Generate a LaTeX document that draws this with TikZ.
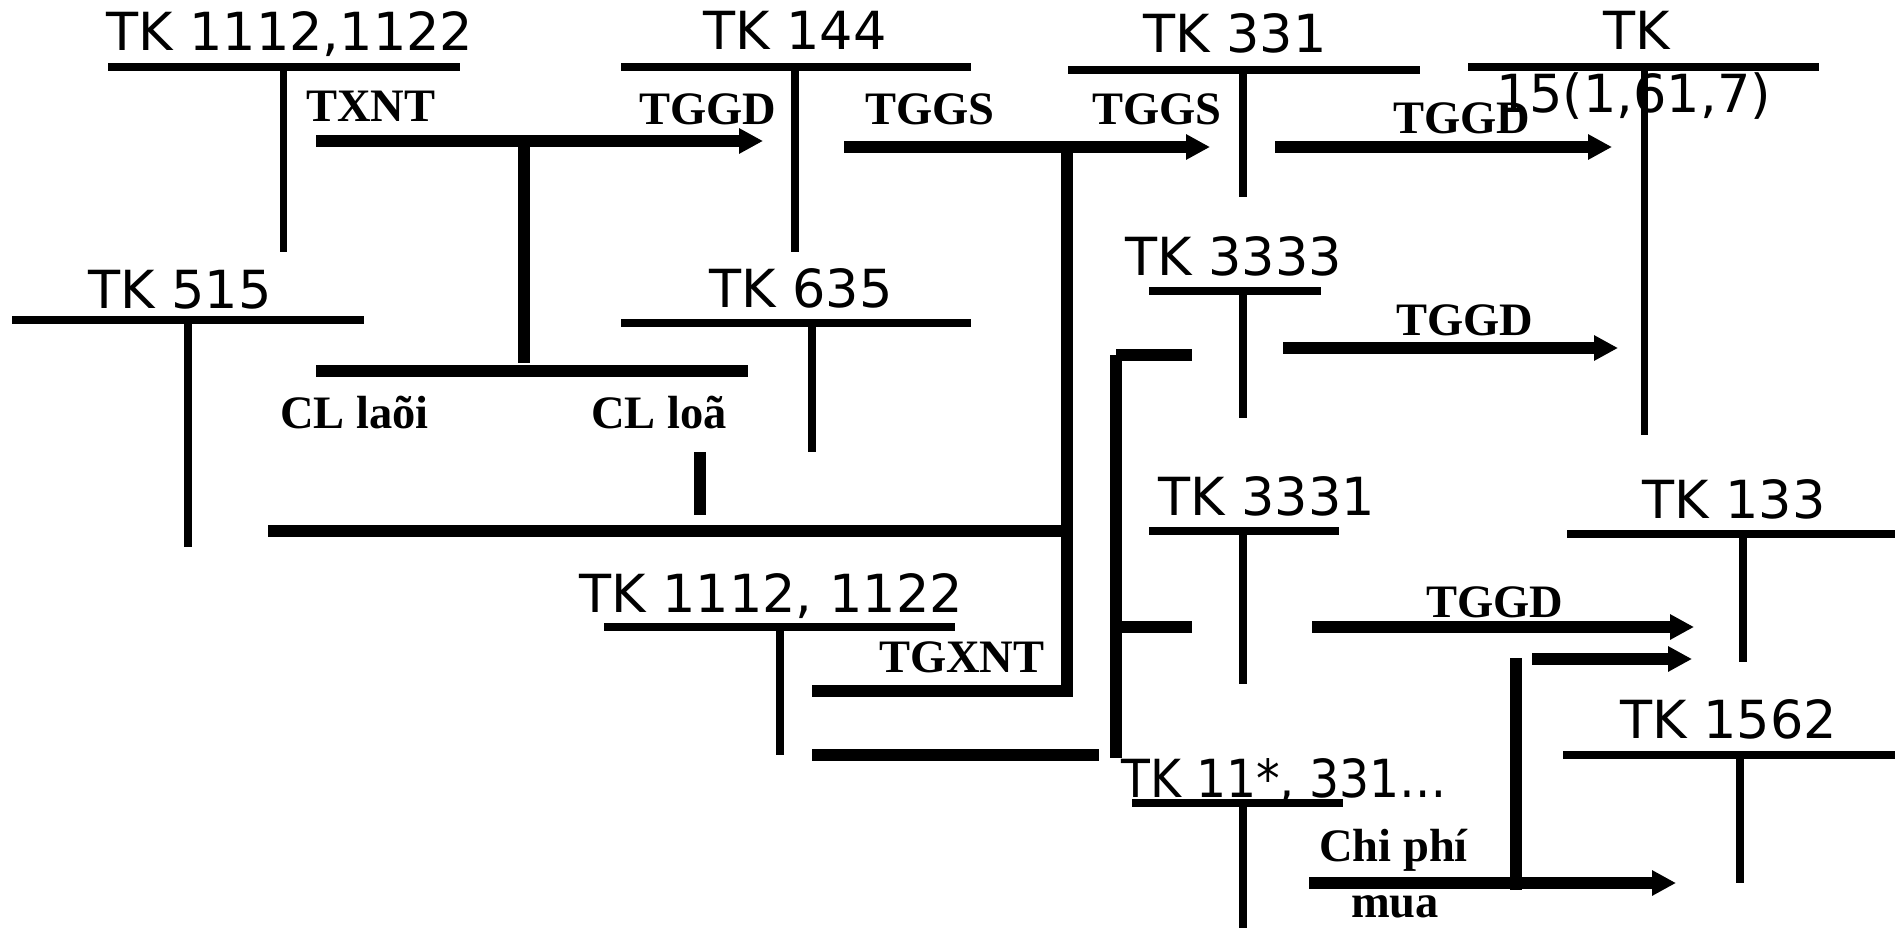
\documentclass[tikz,border=0pt]{standalone}
\usepackage{graphicx}
\usepackage{fontspec}
\setmainfont{Liberation Serif}
\newfontfamily\acfont{DejaVu Sans}
\usetikzlibrary{arrows.meta}
\begin{document}
\begin{tikzpicture}[x=1pt,y=-1pt,
  acct/.style={font=\acfont\fontsize{52.5}{60}\selectfont, anchor=base west, inner sep=0pt},
  lbl/.style={font=\bfseries\fontsize{46.5}{54}\selectfont, anchor=base west, inner sep=0pt},
  thinln/.style={line width=7.5pt},
  thickln/.style={line width=12pt},
  flow/.style={thickln, -{Triangle[length=24pt,width=24pt]}}]
\useasboundingbox[fill=white] (0,0) rectangle (1895,928);

% account titles
\node[acct] (t1) at (106,51) {TK 1112,1122};
\node[acct] (t2) at (703,50) {TK 144};
\node[acct] (t3) at (1143,53) {TK 331};
\node[acct] (t4) at (1603,50) {TK};
\node[acct] (t4b) at (1496,113) {15(1,61,7)};
\node[acct] (t5) at (88,308) {TK 515};
\node[acct] (t6) at (709,307) {TK 635};
\node[acct] (t7) at (1125,275) {TK 3333};
\node[acct] (t8) at (1158,515) {TK 3331};
\node[acct] (t9) at (1642,518) {TK 133};
\node[acct] (t10) at (579,612) {TK 1112, 1122};
\node[acct] (t11) at (1620,738) {TK 1562};
\node[acct] (t12) at (1121,797) {\scalebox{0.9}[1]{TK 11*, 331…}};

% flow labels
\node[lbl] (l1) at (306,122) {TXNT};
\node[lbl] (l2) at (639,125) {TGGD};
\node[lbl] (l3) at (865,125) {TGGS};
\node[lbl] (l4) at (1092,125) {TGGS};
\node[lbl] (l5) at (1393,134) {TGGD};
\node[lbl] (l6) at (1396,335) {TGGD};
\node[lbl] (l7) at (1426,617) {TGGD};
\node[lbl] (l8) at (879,672) {TGXNT};
\node[lbl] (l9) at (280,428) {CL laõi};
\node[lbl] (l10) at (591,428) {CL loã};
\node[lbl] (l11) at (1319,861) {Chi phí};
\node[lbl] (l12) at (1351,917) {mua};

% T accounts
\draw[thinln] (108,67) -- (460,67) (283.5,67) -- (283.5,252);
\draw[thinln] (621,67) -- (971,67) (795,67) -- (795,252);
\draw[thinln] (1068,70) -- (1420,70) (1243,70) -- (1243,197);
\draw[thinln] (1468,67) -- (1819,67) (1644.5,67) -- (1644.5,435);
\draw[thinln] (12,320) -- (364,320) (188,320) -- (188,547);
\draw[thinln] (621,323) -- (971,323) (812,323) -- (812,452);
\draw[thinln] (1149,291) -- (1321,291) (1243,291) -- (1243,418);
\draw[thinln] (1149,531) -- (1339,531) (1243,531) -- (1243,684);
\draw[thinln] (1567,534) -- (1895,534) (1743,534) -- (1743,662);
\draw[thinln] (604,627) -- (955,627) (780,627) -- (780,755);
\draw[thinln] (1563,755) -- (1895,755) (1740,755) -- (1740,883);
\draw[thinln] (1132,803) -- (1343,803) (1243,803) -- (1243,928);

% named points of the flows
\coordinate (a1s) at (316,141);  \coordinate (a1e) at (763,141);
\coordinate (a2s) at (844,147);  \coordinate (a2e) at (1210,147);
\coordinate (a3s) at (1275,147); \coordinate (a3e) at (1612,147);
\coordinate (a4s) at (1283,348); \coordinate (a4e) at (1618,348);
\coordinate (a5s) at (1312,627); \coordinate (a5e) at (1694,627);
\coordinate (a6s) at (1532,659); \coordinate (a6e) at (1692,659);
\coordinate (a7s) at (1309,883); \coordinate (a7e) at (1676,883);

% thick flows
\draw[flow] (a1s) -- (a1e);
\draw[thickln] (524,141) -- (524,363);
\draw[thickln] (316,371) -- (748,371);
\draw[thickln] (700,452) -- (700,515);
\draw[thickln] (268,531) -- (1067,531);
\draw[flow] (a2s) -- (a2e);
\draw[thickln] (1067,147) -- (1067,691);
\draw[thickln] (812,691) -- (1073,691);
\draw[thickln] (812,755) -- (1099,755);
\draw[thickln] (1116,355) -- (1192,355);
\draw[thickln] (1116,355) -- (1116,758);
\draw[thickln] (1116,627) -- (1192,627);
\draw[flow] (a3s) -- (a3e);
\draw[flow] (a4s) -- (a4e);
\draw[flow] (a5s) -- (a5e);
\draw[flow] (a6s) -- (a6e);
\draw[thickln] (1516,658) -- (1516,890);
\draw[flow] (a7s) -- (a7e);
\end{tikzpicture}
\end{document}
